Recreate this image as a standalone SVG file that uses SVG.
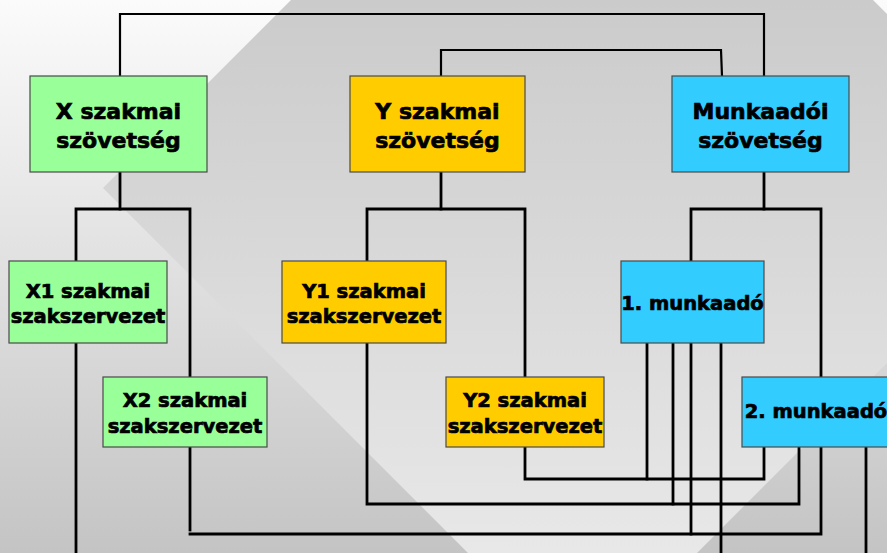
<svg xmlns="http://www.w3.org/2000/svg" width="887" height="553" viewBox="0 0 887 553">
  <defs>
    <linearGradient id="bg" gradientUnits="userSpaceOnUse" x1="0" y1="0" x2="0" y2="553">
      <stop offset="0" stop-color="#fbfbfb"/>
      <stop offset="1" stop-color="#c4c4c4"/>
    </linearGradient>
    <linearGradient id="dia" gradientUnits="userSpaceOnUse" x1="0" y1="0" x2="0" y2="553">
      <stop offset="0" stop-color="#cbcbcb"/>
      <stop offset="1" stop-color="#e8e8e8"/>
    </linearGradient>
  </defs>
  <style>
    .box { stroke: #4a4a4a; stroke-width: 1.2; }
    .g { fill: #99ff99; }
    .y { fill: #ffcc00; }
    .c { fill: #33ccff; }
    .t { font-family: "DejaVu Sans", Verdana, sans-serif; font-weight: bold; fill: #000; stroke: #000; stroke-width: 0.7; text-anchor: middle; }
    .big { font-size: 22px; }
    .small { font-size: 19.5px; }
    .ln { fill: none; stroke: #000; stroke-width: 2.8; stroke-linejoin: miter; stroke-linecap: square; }
    .thin { stroke-width: 2.2; }
  </style>

  <rect x="0" y="0" width="887" height="553" fill="url(#bg)"/>
  <polygon points="582,-291 1061.5,188.5 582.5,667.5 103,188" fill="url(#dia)"/>

  <g id="connectors">
    <polyline class="ln thin" points="120,76 120,14 764,14 764,76"/>
    <polyline class="ln thin" points="441,76 441,50 721,50 722,76"/>

    <polyline class="ln" points="120,172 120,209"/>
    <polyline class="ln" points="76,261 76,209 190,209 190,377"/>
    <polyline class="ln" points="441,172 441,209"/>
    <polyline class="ln" points="367,261 367,209 525,209 525,377"/>
    <polyline class="ln" points="764,172 764,209"/>
    <polyline class="ln" points="691,261 691,209 821,209 821,377"/>

    <line class="ln" x1="76" y1="343" x2="76" y2="560"/>
    <line class="ln" x1="190" y1="447" x2="190" y2="530"/>
    <polyline class="ln" points="190,534 821,534 821,447"/>

    <polyline class="ln" points="525,447 525,479 764,479 764,447"/>
    <polyline class="ln" points="367,343 367,504 799,504 799,447"/>

    <line class="ln" x1="647" y1="343" x2="647" y2="479"/>
    <line class="ln" x1="673" y1="343" x2="673" y2="504"/>
    <line class="ln" x1="691" y1="343" x2="691" y2="534"/>
    <line class="ln" x1="721" y1="343" x2="721" y2="560"/>
    <line class="ln" x1="866" y1="447" x2="866" y2="560"/>
  </g>

  <g id="x-szovetseg">
    <rect class="box g" x="30" y="76" width="177" height="96"/>
    <text class="t big" x="118.5" y="119">X szakmai</text>
    <text class="t big" x="118.5" y="148">szövetség</text>
  </g>
  <g id="y-szovetseg">
    <rect class="box y" x="350" y="76" width="175" height="96"/>
    <text class="t big" x="437.5" y="119">Y szakmai</text>
    <text class="t big" x="437.5" y="148">szövetség</text>
  </g>
  <g id="munkaadoi-szovetseg">
    <rect class="box c" x="672" y="76" width="177" height="96"/>
    <text class="t big" x="760.5" y="119">Munkaadói</text>
    <text class="t big" x="760.5" y="148">szövetség</text>
  </g>

  <g id="x1">
    <rect class="box g" x="9" y="261" width="158" height="82"/>
    <text class="t small" x="88" y="298">X1 szakmai</text>
    <text class="t small" x="88" y="323">szakszervezet</text>
  </g>
  <g id="x2">
    <rect class="box g" x="103" y="377" width="164" height="70"/>
    <text class="t small" x="185" y="407">X2 szakmai</text>
    <text class="t small" x="185" y="433">szakszervezet</text>
  </g>
  <g id="y1">
    <rect class="box y" x="282" y="261" width="164" height="82"/>
    <text class="t small" x="364" y="298">Y1 szakmai</text>
    <text class="t small" x="364" y="323">szakszervezet</text>
  </g>
  <g id="y2">
    <rect class="box y" x="446" y="377" width="158" height="70"/>
    <text class="t small" x="525" y="407">Y2 szakmai</text>
    <text class="t small" x="525" y="433">szakszervezet</text>
  </g>
  <g id="munkaado1">
    <rect class="box c" x="621" y="261" width="143" height="82"/>
    <text class="t small" x="692.5" y="310">1. munkaadó</text>
  </g>
  <g id="munkaado2">
    <rect class="box c" x="742" y="377" width="150" height="70"/>
    <text class="t small" x="816" y="418">2. munkaadó</text>
  </g>
</svg>
